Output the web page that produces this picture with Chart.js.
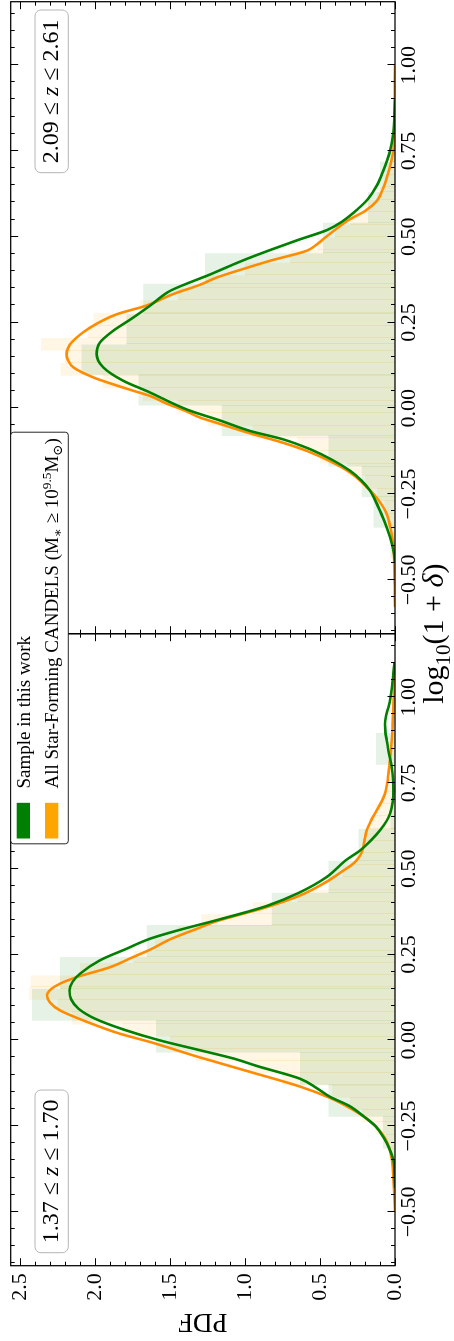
<!DOCTYPE html>
<html><head><meta charset="utf-8">
<script src="https://cdn.jsdelivr.net/npm/chart.js@4.4.0/dist/chart.umd.min.js"></script>
<style>
html,body{margin:0;padding:0;background:#fff;overflow:hidden;width:454px;height:1341px;}
#wrap{position:absolute;left:0;top:0;width:1341px;height:454px;transform-origin:0 0;transform:translate(0px,1341px) rotate(-90deg);}
canvas{display:block;}
</style></head><body>
<div id="wrap"><canvas id="c" width="1341" height="454"></canvas></div>
<script>
const FONT = "'Liberation Serif', 'DejaVu Serif', serif";

// ---------- axes / text ----------
const xTickValues = [-0.50, -0.25, 0.00, 0.25, 0.50, 0.75, 1.00];
const xTickLabels = ['\u22120.50', '\u22120.25', '0.00', '0.25', '0.50', '0.75', '1.00'];
const yTickValues = [0.0, 0.5, 1.0, 1.5, 2.0, 2.5];
const yTickLabels = ['0.0', '0.5', '1.0', '1.5', '2.0', '2.5'];
const xRange = [-0.657, 1.185];
const yRange = [0, 2.562];
const xTitle = 'log_{10}(1 + ~{\u03b4})';
const yTitle = 'PDF';
const panelLabels = ['1.37 \u2264 ~{z} \u2264 1.70', '2.09 \u2264 ~{z} \u2264 2.61'];
const seriesNames = ['Sample in this work', 'All Star-Forming CANDELS (M_{\u2217} \u2265 10^{9.5}M_{\u2299})'];
const seriesColors = ['#008000', '#ffa500'];
const curveColors = ['#008000', '#ff8c00'];
const histFills = ['rgba(0,128,0,0.1)', 'rgba(255,165,0,0.1)'];
const seamColors = ['rgba(0,128,0,0.09)', 'rgba(255,165,0,0.13)'];

// ---------- panel 1: 1.37 <= z <= 1.70 ----------
const lowSampleEdges = [-0.409, -0.316, -0.223, -0.130, -0.036, 0.057, 0.150, 0.243, 0.336, 0.430, 0.523, 0.616, 0.709, 0.803, 0.896];
const lowSampleHeights = [0.02, 0.08, 0.444, 0.633, 1.593, 2.42, 2.233, 1.655, 0.822, 0.444, 0.244, 0.03, 0.0, 0.127];
const lowAllEdges = [-0.524, -0.489, -0.453, -0.417, -0.382, -0.346, -0.310, -0.275, -0.239, -0.203, -0.168, -0.132, -0.096, -0.061, -0.025, 0.011, 0.046, 0.082, 0.118, 0.154, 0.189, 0.225, 0.261, 0.296, 0.332, 0.368, 0.403, 0.439, 0.475, 0.510, 0.546, 0.582, 0.617, 0.653, 0.689, 0.724, 0.760, 0.796, 0.832, 0.867, 0.903, 0.939, 0.974, 1.010, 1.046, 1.081];
const lowAllHeights = [0.005, 0.005, 0.01, 0.01, 0.02, 0.04, 0.06, 0.13, 0.22, 0.30, 0.42, 0.75, 0.97, 1.327, 1.50, 1.82, 2.155, 2.25, 2.44, 2.43, 2.10, 1.744, 1.60, 1.45, 1.29, 0.95, 0.65, 0.44, 0.35, 0.27, 0.22, 0.20, 0.17, 0.13, 0.08, 0.05, 0.04, 0.03, 0.03, 0.02, 0.02, 0.01, 0.01, 0.005, 0.005];
const lowSampleKdeX = [-0.43, -0.38, -0.35, -0.32, -0.282, -0.25, -0.223, -0.19, -0.165, -0.14, -0.112, -0.075, -0.053, -0.029, 0.0, 0.03, 0.063, 0.092, 0.12, 0.145, 0.17, 0.194, 0.233, 0.267, 0.296, 0.32, 0.35, 0.375, 0.393, 0.43, 0.476, 0.524, 0.553, 0.585, 0.612, 0.64, 0.66, 0.695, 0.728, 0.76, 0.796, 0.835, 0.874, 0.9, 0.922, 0.945, 0.971, 1.0, 1.03, 1.068, 1.10];
const lowSampleKdeY = [0.0, 0.004, 0.01, 0.033, 0.078, 0.13, 0.205, 0.31, 0.433, 0.52, 0.633, 0.92, 1.078, 1.30, 1.57, 1.80, 2.0, 2.11, 2.16, 2.17, 2.15, 2.10, 1.967, 1.789, 1.633, 1.45, 1.19, 0.98, 0.845, 0.64, 0.455, 0.33, 0.233, 0.155, 0.10, 0.055, 0.033, 0.015, 0.011, 0.013, 0.022, 0.04, 0.055, 0.064, 0.067, 0.06, 0.044, 0.03, 0.02, 0.011, 0.005];
const lowAllKdeX = [-0.50, -0.45, -0.40, -0.35, -0.30, -0.27, -0.228, -0.20, -0.168, -0.135, -0.092, -0.05, -0.005, 0.019, 0.058, 0.087, 0.11, 0.131, 0.15, 0.165, 0.184, 0.213, 0.243, 0.264, 0.296, 0.325, 0.347, 0.388, 0.422, 0.461, 0.49, 0.515, 0.54, 0.563, 0.59, 0.612, 0.64, 0.67, 0.695, 0.719, 0.75, 0.777, 0.82, 0.874, 0.92, 0.971, 1.02, 1.07];
const lowAllKdeY = [0.0, 0.005, 0.012, 0.02, 0.05, 0.09, 0.19, 0.29, 0.433, 0.633, 0.967, 1.30, 1.633, 1.833, 2.078, 2.233, 2.30, 2.32, 2.29, 2.233, 2.122, 1.90, 1.744, 1.633, 1.49, 1.32, 1.19, 0.856, 0.633, 0.46, 0.36, 0.278, 0.23, 0.211, 0.20, 0.189, 0.16, 0.122, 0.09, 0.067, 0.052, 0.044, 0.032, 0.022, 0.016, 0.011, 0.006, 0.003];

// ---------- panel 2: 2.09 <= z <= 2.61 ----------
const highSampleEdges = [-0.436, -0.348, -0.259, -0.170, -0.081, 0.008, 0.097, 0.186, 0.274, 0.363, 0.452, 0.541, 0.630, 0.719, 0.807];
const highSampleHeights = [0.03, 0.144, 0.222, 0.444, 1.155, 1.71, 2.09, 1.79, 1.678, 1.267, 0.48, 0.18, 0.10, 0.03];
const highAllEdges = [-0.564, -0.527, -0.491, -0.454, -0.418, -0.381, -0.344, -0.308, -0.271, -0.235, -0.198, -0.161, -0.125, -0.088, -0.052, -0.015, 0.022, 0.058, 0.095, 0.132, 0.168, 0.205, 0.241, 0.278, 0.315, 0.351, 0.388, 0.424, 0.461, 0.498, 0.534, 0.571, 0.607, 0.644, 0.681, 0.717, 0.754, 0.790, 0.827, 0.864, 0.900, 0.937, 0.973, 1.010];
const highAllHeights = [0.003, 0.003, 0.005, 0.008, 0.012, 0.025, 0.045, 0.07, 0.12, 0.2, 0.32, 0.5, 0.65, 0.95, 1.25, 1.45, 1.68, 1.95, 2.23, 2.2, 2.36, 2.05, 2.01, 1.7, 1.45, 1.3, 1.0, 0.7, 0.52, 0.4, 0.3, 0.2, 0.12, 0.07, 0.05, 0.03, 0.02, 0.01, 0.01, 0.005, 0.005, 0.003, 0.003];
const highSampleKdeX = [-0.449, -0.42, -0.375, -0.33, -0.299, -0.27, -0.24, -0.21, -0.182, -0.15, -0.119, -0.09, -0.066, -0.035, -0.007, 0.012, 0.046, 0.08, 0.119, 0.158, 0.192, 0.226, 0.26, 0.299, 0.342, 0.371, 0.386, 0.415, 0.439, 0.46, 0.49, 0.52, 0.545, 0.58, 0.61, 0.65, 0.69, 0.75, 0.8, 0.85, 0.9];
const highSampleKdeY = [0.0, 0.008, 0.033, 0.07, 0.10, 0.13, 0.167, 0.225, 0.30, 0.42, 0.567, 0.75, 0.967, 1.17, 1.367, 1.47, 1.633, 1.811, 1.944, 1.989, 1.967, 1.878, 1.76, 1.633, 1.50, 1.344, 1.255, 1.10, 0.967, 0.84, 0.65, 0.45, 0.35, 0.25, 0.18, 0.12, 0.08, 0.033, 0.012, 0.004, 0.0];
const highAllKdeX = [-0.58, -0.52, -0.47, -0.43, -0.396, -0.35, -0.308, -0.28, -0.25, -0.22, -0.187, -0.155, -0.124, -0.10, -0.07, -0.045, -0.027, -0.007, 0.015, 0.036, 0.051, 0.07, 0.09, 0.119, 0.14, 0.158, 0.175, 0.192, 0.235, 0.274, 0.299, 0.333, 0.36, 0.381, 0.405, 0.43, 0.459, 0.478, 0.493, 0.52, 0.551, 0.575, 0.604, 0.64, 0.672, 0.71, 0.75, 0.8, 0.85, 0.9, 1.0];
const highAllKdeY = [0.0, 0.002, 0.004, 0.007, 0.011, 0.03, 0.055, 0.09, 0.144, 0.21, 0.30, 0.43, 0.589, 0.75, 0.989, 1.17, 1.30, 1.40, 1.53, 1.633, 1.744, 1.88, 2.011, 2.144, 2.18, 2.189, 2.18, 2.156, 2.033, 1.855, 1.66, 1.478, 1.30, 1.189, 1.02, 0.833, 0.589, 0.52, 0.478, 0.40, 0.30, 0.20, 0.122, 0.08, 0.055, 0.03, 0.011, 0.006, 0.004, 0.002, 0.0];

// ---------- helpers ----------
function pts(xs, ys) { return xs.map((x, i) => ({x: x, y: ys[i]})); }
function stepPts(edges, heights) {
  const p = heights.map((h, i) => ({x: edges[i], y: h}));
  p.push({x: edges[edges.length - 1], y: 0});
  return p;
}
function parseRich(str, size) {
  const segs = []; let buf = ''; let i = 0;
  const flush = () => { if (buf) { segs.push({t: buf, s: size, dy: 0, it: false}); buf = ''; } };
  while (i < str.length) {
    const ch = str[i];
    if ((ch === '_' || ch === '^' || ch === '~') && str[i + 1] === '{') {
      flush();
      const end = str.indexOf('}', i);
      const t = str.slice(i + 2, end);
      if (ch === '~') segs.push({t: t, s: size, dy: 0, it: true});
      else segs.push({t: t, s: size * 0.7, dy: ch === '_' ? size * 0.22 : -size * 0.38, it: false});
      i = end + 1;
    } else { buf += ch; i++; }
  }
  flush();
  return segs;
}
function setF(ctx, sg) { ctx.font = (sg.it ? 'italic ' : '') + sg.s + 'px ' + FONT; }
function measureRich(ctx, segs) { let w = 0; segs.forEach(sg => { setF(ctx, sg); w += ctx.measureText(sg.t).width; }); return w; }
function drawRich(ctx, segs, x, y) { let cx = x; segs.forEach(sg => { setF(ctx, sg); ctx.fillText(sg.t, cx, y + sg.dy); cx += ctx.measureText(sg.t).width; }); }
function rrect(ctx, x, y, w, h, r) {
  ctx.beginPath(); ctx.moveTo(x + r, y);
  ctx.arcTo(x + w, y, x + w, y + h, r); ctx.arcTo(x + w, y + h, x, y + h, r);
  ctx.arcTo(x, y + h, x, y, r); ctx.arcTo(x, y, x + w, y, r); ctx.closePath();
}

// ---------- datasets ----------
const panels = [
  {axis: 'xa', sE: lowSampleEdges, sH: lowSampleHeights, aE: lowAllEdges, aH: lowAllHeights,
   sKx: lowSampleKdeX, sKy: lowSampleKdeY, aKx: lowAllKdeX, aKy: lowAllKdeY},
  {axis: 'xb', sE: highSampleEdges, sH: highSampleHeights, aE: highAllEdges, aH: highAllHeights,
   sKx: highSampleKdeX, sKy: highSampleKdeY, aKx: highAllKdeX, aKy: highAllKdeY}
];

// ---------- plugins ----------
const histSeams = {
  id: 'histSeams',
  beforeDatasetsDraw(chart) {
    const ctx = chart.ctx, ys = chart.scales.y;
    ctx.save(); ctx.lineWidth = 1;
    panels.forEach(p => {
      const xs = chart.scales[p.axis];
      [[p.sE, p.sH, seamColors[0]], [p.aE, p.aH, seamColors[1]]].forEach(([E, H, col]) => {
        ctx.strokeStyle = col; ctx.beginPath();
        for (let i = 1; i < H.length; i++) {
          const h = Math.min(H[i - 1], H[i]);
          if (h <= 0) continue;
          const px = Math.round(xs.getPixelForValue(E[i])) + 0.5;
          ctx.moveTo(px, ys.getPixelForValue(0)); ctx.lineTo(px, ys.getPixelForValue(h));
        }
        ctx.stroke();
      });
    });
    ctx.restore();
  }
};
const axesDecor = {
  id: 'axesDecor',
  afterDatasetsDraw(chart) {
    const ctx = chart.ctx, ys = chart.scales.y;
    const top = ys.top, bot = ys.bottom;
    ctx.save(); ctx.strokeStyle = '#000';
    ['xa', 'xb'].forEach(id => {
      const xs = chart.scales[id];
      const L = xs.left, R = xs.right;
      ctx.lineWidth = 1; ctx.beginPath();
      for (let k = Math.ceil(xs.min / 0.05 - 1e-6); k * 0.05 <= xs.max + 1e-6; k++) {
        const v = k * 0.05;
        const maj = Math.abs(v / 0.25 - Math.round(v / 0.25)) < 1e-6;
        const len = maj ? 7.5 : 4;
        const p = Math.round(xs.getPixelForValue(v)) + 0.5;
        ctx.moveTo(p, bot); ctx.lineTo(p, bot - len);
        ctx.moveTo(p, top); ctx.lineTo(p, top + len);
      }
      for (let k = 0; k * 0.1 <= ys.max + 1e-6; k++) {
        const len = (k % 5 === 0) ? 7.5 : 4;
        const p = Math.round(ys.getPixelForValue(k * 0.1)) + 0.5;
        ctx.moveTo(L, p); ctx.lineTo(L + len, p);
        ctx.moveTo(R, p); ctx.lineTo(R - len, p);
      }
      ctx.stroke();
      ctx.lineWidth = 1.25;
      ctx.strokeRect(L, top, R - L, bot - top);
    });
    ctx.restore();
  }
};
const annot = {
  id: 'annot',
  afterDraw(chart) {
    const ctx = chart.ctx, xa = chart.scales.xa, xb = chart.scales.xb, ys = chart.scales.y;
    const top = ys.top;
    ctx.save(); ctx.textAlign = 'left'; ctx.textBaseline = 'alphabetic';
    // panel labels
    panelLabels.forEach((lab, i) => {
      const segs = parseRich(lab, 24);
      const w = measureRich(ctx, segs);
      const bw = w + 19, bh = 33.3;
      const bx = i === 0 ? xa.left + 13 : xb.right - 8.3 - bw;
      const by = top + 24.3;
      rrect(ctx, bx, by, bw, bh, 6);
      ctx.fillStyle = 'rgba(255,255,255,0.85)'; ctx.fill();
      ctx.strokeStyle = '#b5b5b5'; ctx.lineWidth = 1; ctx.stroke();
      ctx.fillStyle = '#000';
      drawRich(ctx, segs, bx + 9.5, by + 23.3);
    });
    // legend
    const lsegs = seriesNames.map(n => parseRich(n, 19));
    const tw = Math.max(...lsegs.map(s => measureRich(ctx, s)));
    const lw = 5.3 + 35.7 + 14.3 + tw + 6;
    const mid = (xa.left + xb.right) / 2 - 4.3;
    const lx = mid - lw / 2, ly = top, lh = 57.6;
    rrect(ctx, lx, ly, lw, lh, 3);
    ctx.fillStyle = '#fff'; ctx.fill();
    ctx.strokeStyle = 'rgba(0,0,0,0.85)'; ctx.lineWidth = 1; ctx.stroke();
    seriesColors.forEach((c, i) => {
      ctx.fillStyle = c; ctx.fillRect(lx + 5.3, ly + 6 + i * 28.3, 35.7, 13.3);
      ctx.fillStyle = '#000'; drawRich(ctx, lsegs[i], lx + 55.3, ly + 18.8 + i * 28.3);
    });
    // x title
    const tsegs = parseRich(xTitle, 30);
    const w2 = measureRich(ctx, tsegs);
    ctx.fillStyle = '#000';
    drawRich(ctx, tsegs, (xa.left + xb.right) / 2 - w2 / 2, chart.height - 11);
    ctx.restore();
  }
};

const datasets = [];
panels.forEach(p => {
  datasets.push({type: 'line', label: seriesNames[0], xAxisID: p.axis, data: pts(p.sKx, p.sKy),
    borderColor: curveColors[0], borderWidth: 2.6, pointRadius: 0, cubicInterpolationMode: 'monotone', fill: false, order: 0});
  datasets.push({type: 'line', label: seriesNames[1], xAxisID: p.axis, data: pts(p.aKx, p.aKy),
    borderColor: curveColors[1], borderWidth: 2.6, pointRadius: 0, cubicInterpolationMode: 'monotone', fill: false, order: 1});
  datasets.push({type: 'line', label: seriesNames[0] + ' hist', xAxisID: p.axis, data: stepPts(p.sE, p.sH),
    stepped: true, borderWidth: 0, borderColor: 'rgba(0,0,0,0)', pointRadius: 0, fill: 'origin', backgroundColor: histFills[0], order: 2});
  datasets.push({type: 'line', label: seriesNames[1] + ' hist', xAxisID: p.axis, data: stepPts(p.aE, p.aH),
    stepped: true, borderWidth: 0, borderColor: 'rgba(0,0,0,0)', pointRadius: 0, fill: 'origin', backgroundColor: histFills[1], order: 3});
});

function noPad(s) { s.paddingTop = 0; s.paddingBottom = 0; s.paddingLeft = 0; s.paddingRight = 0; }
function xScale() {
  return {
    type: 'linear', position: 'bottom', stack: 'panels', stackWeight: 1, offset: false,
    min: xRange[0], max: xRange[1],
    grid: {display: false, drawTicks: false}, border: {display: false},
    afterBuildTicks: s => { s.ticks = xTickValues.map(v => ({value: v})); },
    afterFit: s => { s.height = 59; noPad(s); },
    ticks: {
      autoSkip: false, maxRotation: 0, minRotation: 0, padding: 1, color: '#000',
      font: {family: FONT, size: 22},
      callback: v => { const i = xTickValues.findIndex(t => Math.abs(t - v) < 1e-9); return i >= 0 ? xTickLabels[i] : ''; }
    }
  };
}

new Chart(document.getElementById('c'), {
  type: 'line',
  data: {datasets: datasets},
  options: {
    responsive: false, maintainAspectRatio: false, animation: false, devicePixelRatio: 1,
    layout: {padding: {top: 10.7, right: 1.7, left: 0, bottom: 0}},
    plugins: {legend: {display: false}, tooltip: {enabled: false}},
    scales: {
      y: {
        type: 'linear', position: 'left', min: yRange[0], max: yRange[1],
        grid: {display: false, drawTicks: false}, border: {display: false},
        afterBuildTicks: s => { s.ticks = yTickValues.map(v => ({value: v})); },
        afterFit: s => { s.width = 75.3; noPad(s); },
        ticks: {
          padding: 7.6, color: '#000', font: {family: FONT, size: 22},
          callback: v => { const i = yTickValues.findIndex(t => Math.abs(t - v) < 1e-9); return i >= 0 ? yTickLabels[i] : ''; }
        },
        title: {display: true, text: yTitle, color: '#000', font: {family: FONT, size: 27}, padding: {top: 3.8, bottom: 0}}
      },
      xa: xScale(),
      xb: xScale()
    }
  },
  plugins: [histSeams, axesDecor, annot]
});
</script></body></html>
